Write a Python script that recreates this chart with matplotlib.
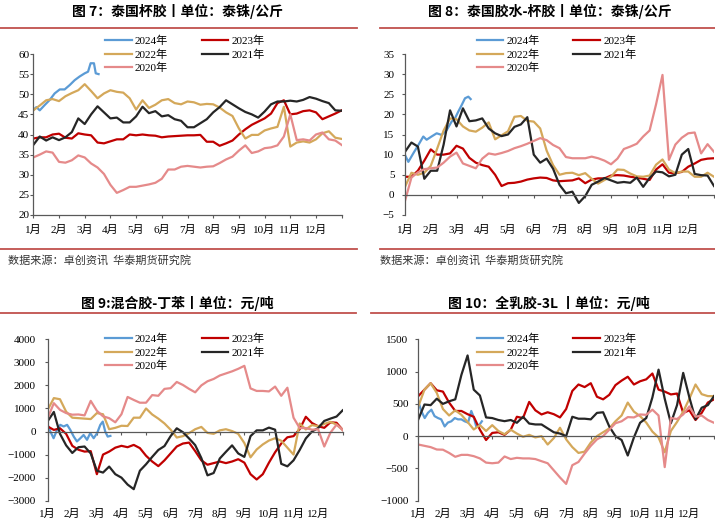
import numpy as np
import matplotlib
matplotlib.use("Agg")
from matplotlib import pyplot as plt
from matplotlib.lines import Line2D

plt.rcParams['font.family'] = ['Liberation Serif', 'Noto Sans CJK SC']

months = ["1月", "2月", "3月", "4月", "5月", "6月", "7月", "8月", "9月", "10月", "11月", "12月"]
years = ["2024年", "2023年", "2022年", "2021年", "2020年"]
colors = ["#5B9BD5", "#C00000", "#D4A85A", "#262626", "#E58A8A"]

# weekly-ish grid (quarter month) for the full years
grid = np.arange(49) * 0.25

# ---- 图7 泰国杯胶 (泰铢/公斤)
cup_2024_x = [0, 0.12, 0.25, 0.44, 0.64, 0.83, 1.03, 1.22, 1.42, 1.61, 1.8, 2.0, 2.13, 2.23, 2.36, 2.43, 2.54]
cup_2024 = [46.1, 46.8, 46.0, 47.3, 48.6, 50.2, 51.2, 51.2, 52.3, 53.5, 54.4, 55.2, 55.6, 57.7, 57.7, 55.2, 55.0]
cup_2023 = [39.0, 39.3, 39.3, 40.0, 40.2, 39.2, 39.0, 40.3, 40.0, 39.8, 38.0, 37.8, 38.3, 38.8, 38.8, 40.0,
            39.8, 40.0, 39.8, 39.7, 39.3, 39.5, 39.6, 39.7, 39.8, 39.8, 39.9, 38.2, 38.2, 37.2, 37.8, 38.5,
            40.0, 41.3, 42.4, 43.2, 44.0, 45.2, 47.8, 48.5, 45.0, 45.2, 45.8, 46.0, 45.5, 43.8, 44.5, 45.2, 46.0]
cup_2022 = [46.0, 47.2, 48.5, 48.8, 48.3, 49.5, 50.3, 51.0, 52.5, 50.8, 49.0, 50.2, 51.0, 50.6, 50.4, 49.0,
            46.2, 48.5, 46.6, 47.4, 48.5, 48.8, 47.8, 47.5, 48.2, 48.0, 47.4, 47.6, 47.5, 46.7, 45.5, 44.6,
            41.5, 39.0, 39.9, 39.9, 41.0, 41.5, 41.9, 46.9, 37.0, 38.0, 38.3, 38.0, 38.8, 40.3, 40.8, 39.2, 38.9]
cup_2021 = [37.4, 39.5, 38.5, 39.3, 38.6, 39.3, 40.6, 44.0, 42.6, 45.0, 47.0, 45.5, 44.0, 44.2, 43.0, 43.0,
            44.5, 46.9, 45.3, 45.8, 44.5, 44.8, 43.8, 43.4, 41.8, 41.8, 42.8, 43.8, 45.5, 46.8, 48.5, 47.5,
            46.5, 45.6, 45.0, 44.2, 45.7, 47.5, 48.2, 48.2, 48.4, 48.2, 48.6, 49.3, 48.9, 48.3, 47.8, 46.0, 45.9]
cup_2020 = [34.3, 35.0, 35.8, 35.5, 33.2, 33.0, 33.6, 34.8, 34.3, 32.8, 31.8, 30.2, 27.5, 25.5, 26.2, 27.0,
            27.0, 27.3, 27.6, 28.0, 29.0, 31.3, 31.3, 32.0, 32.2, 32.0, 31.8, 32.0, 32.1, 32.9, 33.8, 34.5,
            36.0, 37.3, 35.4, 35.8, 36.6, 36.8, 37.3, 39.5, 45.0, 38.6, 38.8, 38.5, 40.0, 40.5, 38.8, 38.5, 37.4]

# ---- 图8 泰国胶水-杯胶 (泰铢/公斤)
gap_2024_x = [0, 0.13, 0.32, 0.52, 0.71, 0.84, 1.03, 1.23, 1.42, 1.62, 1.81, 1.94, 2.07, 2.2, 2.33, 2.46, 2.55]
gap_2024 = [9.9, 8.2, 10.3, 12.4, 14.5, 13.7, 14.5, 15.3, 14.9, 16.1, 18.2, 19.0, 20.7, 22.3, 24.0, 24.4, 23.8]
gap_2023 = [4.5, 4.5, 6.0, 8.5, 11.3, 10.0, 10.0, 10.3, 12.2, 11.5, 9.2, 8.0, 7.4, 7.0, 5.0, 2.2,
            2.9, 3.0, 3.3, 3.8, 4.1, 4.3, 4.2, 3.6, 3.4, 3.5, 3.6, 4.1, 2.9, 3.8, 4.1, 4.1,
            4.8, 4.9, 4.8, 4.5, 4.3, 4.0, 3.7, 6.3, 7.6, 5.5, 5.4, 5.7, 7.0, 7.8, 8.7, 9.0, 9.1]
gap_2022 = [2.0, 5.5, 5.0, 5.5, 7.2, 11.5, 16.0, 19.0, 18.8, 17.0, 16.0, 15.7, 16.7, 18.0, 13.8, 14.8,
            15.8, 19.4, 19.6, 18.4, 18.2, 16.5, 11.0, 7.4, 5.0, 5.4, 5.5, 4.9, 5.4, 4.0, 2.8, 3.7,
            4.5, 6.3, 6.2, 5.3, 4.6, 4.5, 4.8, 7.5, 8.8, 6.3, 5.4, 5.8, 5.8, 4.5, 4.5, 5.5, 4.5]
gap_2021 = [10.7, 13.0, 12.0, 4.0, 6.0, 6.0, 12.5, 21.0, 17.0, 21.5, 18.3, 18.5, 19.0, 16.5, 15.3, 14.6,
            15.0, 16.9, 17.5, 19.3, 10.0, 8.0, 9.0, 6.5, 2.5, 0.4, 0.8, -2.0, -0.3, 2.5, 3.3, 4.2,
            3.6, 3.0, 3.2, 3.0, 4.3, 2.0, 4.2, 5.8, 5.6, 4.6, 5.0, 10.0, 11.4, 5.2, 4.9, 4.8, 2.2]
gap_2020 = [-1.5, 4.3, 5.6, 6.4, 6.6, 6.8, 8.0, 9.5, 10.5, 7.8, 7.2, 6.6, 9.0, 10.3, 10.0, 10.4,
            10.9, 11.6, 12.1, 12.7, 13.4, 14.1, 13.6, 12.4, 11.6, 9.4, 9.1, 9.1, 9.1, 9.5, 9.1, 8.5,
            7.6, 9.0, 11.4, 12.0, 12.7, 14.5, 16.0, 22.5, 29.8, 8.7, 12.5, 14.2, 15.3, 15.5, 10.3, 12.6, 10.7]

# ---- 图9 混合胶-丁苯 (元/吨)
mix_2024_x = [0, 0.11, 0.24, 0.38, 0.51, 0.65, 0.79, 0.92, 1.06, 1.19, 1.33, 1.46, 1.6, 1.73, 1.87, 2.01,
              2.14, 2.24, 2.34, 2.44, 2.55]
mix_2024 = [290, 0, -290, 70, 290, 220, 290, 70, -220, -430, -290, -150, -360, -70, -290, -70,
            290, 430, 0, -220, -190]
mix_2023 = [220, 70, 140, -100, -620, -790, -870, -850, -1850, -1000, -870, -700, -620, -680, -580, -720,
            -1050, -1300, -1500, -1250, -950, -650, -520, -480, -850, -1250, -1440, -1370, -1300, -1370, -1300, -1200,
            -1350, -1850, -2080, -1850, -1350, -900, -520, -250, -200, 100, 640, 370, 230, 160, 400, 380, 70]
mix_2022 = [940, 1450, 1400, 860, 600, 580, 560, 540, 800, 750, 100, 160, 250, 240, 600, 600,
            1000, 740, 560, 350, 80, -260, -200, -70, 100, 200, -60, -100, 50, 100, 20, -100,
            -500, -1120, -780, -560, -390, -290, -400, -700, -1000, 350, 90, 280, 230, 330, 420, 300, 70]
mix_2021 = [450, 850, -100, -600, -930, -680, -650, -950, -1700, -1780, -1520, -1850, -2000, -2300, -2500, -1700,
            -1420, -1100, -800, -630, -200, 140, -30, -300, -590, -1150, -1900, -1800, -1170, -880, -600, -950,
            -1100, -200, 50, 50, 170, 80, -1400, -1510, -1250, -800, -300, 0, 150, 460, 560, 650, 920]
mix_2020 = [580, 1230, 940, 800, 730, 740, 700, 1330, 900, 660, 580, 400, 750, 1500, 1370, 1250,
            1250, 1580, 1550, 1850, 1880, 2150, 2020, 1850, 1700, 2000, 2180, 2280, 2430, 2520, 2610, 2720,
            2850, 1870, 1760, 1760, 1740, 1950, 1550, 1900, 600, 150, 150, 80, 100, -650, -50, 300, 70]

# ---- 图10 全乳胶-3L (元/吨)
rss_2024_x = [0, 0.12, 0.26, 0.39, 0.53, 0.66, 0.8, 0.93, 1.07, 1.2, 1.34, 1.48, 1.61, 1.75, 1.88, 2.02,
              2.15, 2.26, 2.35, 2.49, 2.58]
rss_2024 = [540, 390, 280, 360, 410, 310, 280, 260, 150, 210, 230, 280, 260, 260, 230, 210,
            390, 280, 150, 180, 230]
rss_2023 = [620, 720, 820, 710, 690, 520, 390, 390, 340, 300, 100, -60, 50, 60, 20, 100,
            300, 280, 530, 400, 336, 370, 340, 290, 420, 700, 800, 760, 820, 610, 570, 640,
            790, 860, 920, 800, 850, 880, 970, 720, 690, 646, 660, 360, 400, 250, 360, 520, 570]
rss_2022 = [460, 720, 820, 670, 420, 320, 400, 330, 220, 103, 170, 80, 170, 80, 30, 100,
            40, -10, 20, -20, 0, -130, -30, 130, -50, -170, -260, -240, -100, 0, 60, 120,
            230, 320, 520, 380, 310, 210, 70, -20, -250, 80, 220, 380, 580, 800, 650, 620, 620]
rss_2021 = [260, 490, 480, 580, 500, 540, 570, 950, 1250, 720, 630, 290, 280, 250, 232, 250,
            207, 300, 195, 181, 181, 120, 60, 40, 0, 300, 270, 270, 260, 360, 370, 150,
            0, -60, -300, -20, 207, 280, 600, 1030, 580, 200, 480, 980, 600, 260, 440, 480, 620]
rss_2020 = [-130, -150, -170, -207, -210, -260, -320, -290, -290, -310, -345, -410, -420, -410, -315, -355,
            -336, -345, -345, -355, -388, -420, -530, -640, -740, -450, -400, -270, -150, -50, 0, 100,
            200, 230, 295, 290, 336, 330, 410, 320, -480, 280, 265, 336, 460, 300, 320, 250, 207]

W, H = 715, 525
fig = plt.figure(figsize=(7.15, 5.25), dpi=100)

rule_color = "#C0504D"
axis_color = "#595959"


def box(x0, x1, y0, y1):
    return [x0 / W, 1 - y1 / H, (x1 - x0) / W, (y1 - y0) / H]


def fx(x):
    return x / W


def fy(y):
    return 1 - y / H


def hrule(x0, x1, y):
    fig.add_artist(Line2D([fx(x0), fx(x1)], [fy(y), fy(y)], color=rule_color, lw=1.3))


def panel(rect, series, ylim, yticks, ypad, xpad, zero_axis, title, title_x, title_y, leg_x, leg_y):
    ax = fig.add_axes(rect)
    handles = []
    for (xs, ys), lab, c in zip(series, years, colors):
        h, = ax.plot(xs, ys, color=c, lw=1.6, label=lab)
        handles.append(h)
    ax.set_xlim(0, 12)
    ax.set_ylim(*ylim)
    ax.set_yticks(yticks)
    ax.set_xticks(range(13))
    ax.set_xticklabels(months + [""])
    for s in ["top", "right"]:
        ax.spines[s].set_visible(False)
    for s in ["left", "bottom"]:
        ax.spines[s].set_color(axis_color)
        ax.spines[s].set_linewidth(0.9)
    if zero_axis:
        ax.spines["bottom"].set_position(("data", 0))
    ax.tick_params(axis="y", direction="out", length=2.5, width=0.8, color=axis_color,
                   labelsize=8, pad=ypad)
    ax.tick_params(axis="x", direction="out", length=2.3, width=0.8, color=axis_color,
                   labelsize=8, pad=xpad)
    ax.patch.set_alpha(0)
    fig.text(fx(title_x), fy(title_y), title, ha="center", va="center", fontsize=10,
             fontweight="bold", family=["Noto Sans CJK SC"])
    order = [0, 2, 4, 1, 3]
    fig.legend(handles=[handles[i] for i in order], labels=[years[i] for i in order],
               loc="upper left", bbox_to_anchor=(fx(leg_x), fy(leg_y)), ncol=2, frameon=False,
               fontsize=8, handlelength=2.4, handletextpad=0.3, columnspacing=3.0,
               labelspacing=0.3, borderpad=0, borderaxespad=0)
    return ax


panel(box(33.3, 341.7, 54, 215),
      [(cup_2024_x, cup_2024), (grid, cup_2023), (grid, cup_2022), (grid, cup_2021), (grid, cup_2020)],
      (20, 60), range(20, 61, 5), 0.5, 4.5, False,
      "图 7：泰国杯胶丨单位：泰铢/公斤", 177.5, 11, 105, 35.5)

panel(box(405, 714, 54, 215),
      [(gap_2024_x, gap_2024), (grid, gap_2023), (grid, gap_2022), (grid, gap_2021), (grid, gap_2020)],
      (-5, 35), range(-5, 36, 5), 5.0, 19.0, True,
      "图 8：泰国胶水-杯胶丨单位：泰铢/公斤", 550, 11, 476.7, 35.5)

panel(box(47.7, 342.7, 339.3, 500.7),
      [(mix_2024_x, mix_2024), (grid, mix_2023), (grid, mix_2022), (grid, mix_2021), (grid, mix_2020)],
      (-3000, 4000), range(-3000, 4001, 1000), 6.0, 53.5, True,
      "图 9:混合胶-丁苯丨单位：元/吨", 177.5, 303.3, 105, 333.5)

panel(box(418.3, 714, 339.3, 500.7),
      [(rss_2024_x, rss_2024), (grid, rss_2023), (grid, rss_2022), (grid, rss_2021), (grid, rss_2020)],
      (-1000, 1500), range(-1000, 1501, 500), 4.6, 50.0, True,
      "图 10：全乳胶-3L 丨单位：元/吨", 549, 303.3, 476.7, 333.5)

# decorative rules and source notes
hrule(0, 357, 28)
hrule(0, 357, 249)
hrule(380, 715, 28)
hrule(380, 715, 249)
hrule(0, 356, 312.7)
hrule(371, 715, 312.7)

source = "数据来源：卓创资讯  华泰期货研究院"
fig.text(fx(8), fy(260), source, ha="left", va="center", fontsize=8, color="#333333",
         family=["Noto Sans CJK SC"])
fig.text(fx(380), fy(260), source, ha="left", va="center", fontsize=8, color="#333333",
         family=["Noto Sans CJK SC"])

fig.savefig("out.png", dpi=100)
